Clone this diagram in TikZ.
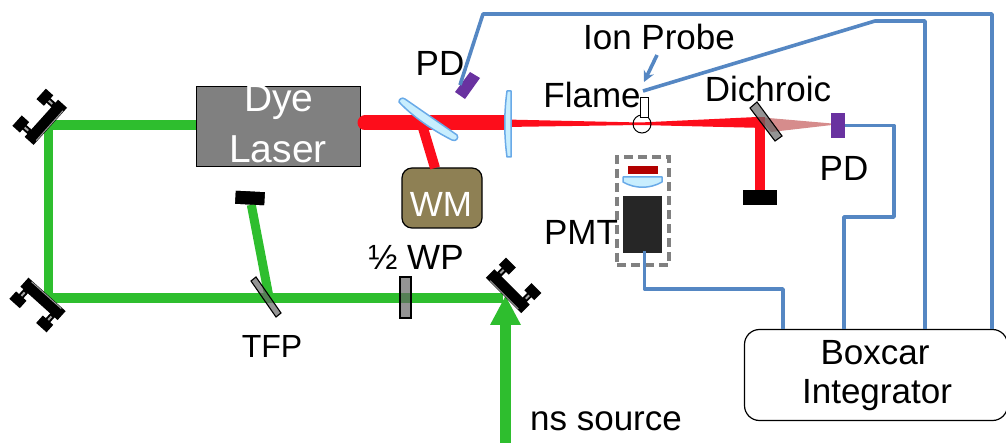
\documentclass[tikz,border=0pt]{standalone}
\usepackage{fontspec}
\setmainfont{Liberation Sans}
\usetikzlibrary{arrows.meta}
\definecolor{gr}{RGB}{46,190,46}
\definecolor{rd}{RGB}{253,13,27}
\definecolor{bl}{RGB}{85,135,195}
\definecolor{pur}{RGB}{105,50,160}
\definecolor{wm}{RGB}{142,128,84}
\definecolor{ltb}{RGB}{200,238,254}
\definecolor{lnb}{RGB}{105,170,232}
\definecolor{pink}{RGB}{214,140,140}
\tikzset{x=1pt,y=-1pt,
 grbeam/.style={draw=gr,line width=9.5pt},
 wire/.style={draw=bl,line width=3.6pt,line join=round},
 lbl/.style={font=\fontsize{35}{37}\selectfont,text=black,inner sep=0pt,anchor=center},
 biglbl/.style={font=\fontsize{39}{41}\selectfont,text=white,inner sep=0pt,anchor=center},
 optic/.style={draw=black,fill=black!60,fill opacity=.7,line width=1.1pt},
 lensy/.style={draw=lnb,fill=ltb,line width=1.5pt,line join=round},
 blk/.style={fill=black,inner sep=0pt},
 mirror/.pic={
  \fill[black] (-25,-3.5) rectangle (25,8.5);
  \draw[black!40!white,line width=1pt] (-20,-2.5) -- (20,-2.5);
  \fill[black] (-21,8) rectangle (-15,16);\fill[black] (15,8) rectangle (21,16);
  \fill[black!35!white] (-19,10) rectangle (-17,15);\fill[black!35!white] (17,10) rectangle (19,15);
  \fill[black] (-25,15) rectangle (-11,25);\fill[black] (11,15) rectangle (25,25);
 }}
\begin{document}
\begin{tikzpicture}
\useasboundingbox (0,0) rectangle (1006,443);
% green path
\node[draw=black,fill=black!50,line width=1pt,minimum width=164pt,minimum height=80pt,inner sep=0pt] (dye) at (278,127) {};
\coordinate (m1) at (48.5,125);\coordinate (m2) at (48.5,298);\coordinate (m3) at (503,298);
\coordinate (dyeg) at (196,125);
\draw[grbeam,line join=miter] (dyeg) -- (m1) -- (m2) -- (m3);
\node[blk,rotate=-3,minimum width=29pt,minimum height=13pt] (stopn) at (250,198) {};
\coordinate (tfpc) at (269,297);
\draw[grbeam,line width=9pt] (tfpc) -- (stopn);
\node[blk,rotate=-3,minimum width=29pt,minimum height=13pt] at (stopn) {};
\coordinate (nsb) at (505.5,443);\coordinate (nst) at (505.5,320);
\draw[draw=gr,line width=10.5pt] (nsb) -- (nst);
\fill[gr] (505.5,296) -- (521,325) -- (490,325) -- cycle;
% mirrors
\pic[rotate=-132] at (47.7,124) {mirror};
\pic[rotate=-42] at (44.7,297) {mirror};
\pic[rotate=135] at (506,293) {mirror};
% optics on green
\draw[optic] (256,277) -- (251,281) -- (276,317) -- (281,313) -- cycle;
\node[optic,minimum width=11pt,minimum height=41pt,inner sep=0pt] (hwp) at (405.5,297.5) {};
% red
\node[draw=black,fill=wm,line width=1.2pt,rounded corners=10pt,minimum width=80pt,minimum height=60pt,inner sep=0pt] (wmn) at (442,198) {};
\coordinate (bsc) at (423,128);\coordinate (wmt) at (435,168);
\draw[draw=rd,line width=10pt] (bsc) -- (wmt);
\draw[draw=rd,line width=15pt,line cap=round] (365,123) -- (501,123);
\draw[draw=rd,line width=15pt] (365,123) -- (505,123);
\fill[pink] (757,117) -- (832,123.5) -- (832,125) -- (771,132) -- cycle;
\fill[rd] (505,119.5) -- (640,122.5) -- (757,117) -- (760,117) -- (765,123) -- (765,128) -- (640,125) -- (505,127) -- cycle;
\node[blk,minimum width=34pt,minimum height=15pt] (dump) at (760,197.5) {};
\coordinate (dtop) at (760,117);
\draw[draw=rd,line width=9.5pt] (dtop) -- (dump.north);
% lens + BS
\draw[lensy] (399,102) .. controls (399,99) and (402,97) .. (405,99) -- (457,135) .. controls (459,138) and (456,142) .. (452,140) .. controls (432,130) and (412,116) .. (399,102) -- cycle;
\draw[lensy] (507,91) -- (511,91) -- (511,157) -- (507,157) .. controls (504,135) and (504,113) .. (507,91) -- cycle;
% dichroic
\draw[optic] (757,102) -- (750,108) -- (775,141) -- (782,136) -- cycle;
% flame and probe
\node[draw=black,circle,line width=1pt,minimum size=18pt,inner sep=0pt] (flame) at (642,124) {};
\node[draw=black,fill=white,line width=1pt,minimum width=8pt,minimum height=20pt,inner sep=0pt] (probe) at (644,108) {};
% PD
\fill[pur] (470,72) -- (480,78) -- (465,99) -- (455,92) -- cycle;
\coordinate (pdl) at (460,85);
\node[fill=pur,minimum width=14pt,minimum height=25pt,inner sep=0pt] (pdr) at (837.5,125.5) {};
% PMT
\node[draw=black!50,line width=3.8pt,dash pattern=on 9pt off 5pt,minimum width=52pt,minimum height=108pt,inner sep=0pt] (pmtbox) at (643,211) {};
\fill[red!70!black] (628,166) rectangle (658,174);
\draw[lensy] (623,177) -- (662,177) -- (662,182) .. controls (650,189) and (635,189) .. (623,182) -- cycle;
\node[fill=black!85,minimum width=39pt,minimum height=57pt,inner sep=0pt] (pmt) at (642.5,224.5) {};
% boxcar
\node[draw=black,fill=white,line width=1.2pt,rounded corners=15pt,minimum width=263pt,minimum height=91pt,inner sep=0pt] (box) at (876,375) {};
% wires
\coordinate (a1) at (483,14);\coordinate (a2) at (992,14);\coordinate (a3) at (992,329);
\draw[wire] (pdl) -- (a1) -- (a2) -- (a3);
\coordinate (b0) at (643,91);\coordinate (b1) at (875,21);\coordinate (b2) at (925,21);\coordinate (b3) at (925,329);
\draw[wire] (b0) -- (b1) -- (b2) -- (b3);
\coordinate (c1) at (894,125.5);\coordinate (c2) at (894,217);\coordinate (c3) at (844,217);\coordinate (c4) at (844,329);
\draw[wire] (pdr.east) -- (c1) -- (c2) -- (c3) -- (c4);
\coordinate (d0) at (644.5,251);\coordinate (d1) at (644.5,289);\coordinate (d2) at (783,289);\coordinate (d3) at (783,329);
\draw[wire] (d0) -- (d1) -- (d2) -- (d3);
\coordinate (ionA) at (657,55);\coordinate (ionB) at (644,82);
\draw[wire,-{Stealth[length=11pt,width=11pt]}] (ionA) -- (ionB);
% labels
\node[biglbl] (t1) at (279,102) {Dye};
\node[biglbl] (t2) at (278,149) {Laser};
\node[lbl,text=white] (t3) at (441,204) {WM};
\node[lbl] (t4) at (440,63) {PD};
\node[lbl] (t5) at (659,37) {Ion Probe};
\node[lbl] (t6) at (592,95) {Flame};
\node[lbl] (t7) at (768,89) {Dichroic};
\node[lbl] (t8) at (844,168) {PD};
\node[lbl] (t9) at (416,257) {½ WP};
\node[lbl,font=\fontsize{32}{34}\selectfont] (t10) at (272,346) {TFP};
\node[lbl] (t11) at (581,232) {PMT};
\node[lbl] (t12) at (606,421) {ns source};
\node[lbl] (t13) at (875,353) {Boxcar};
\node[lbl] (t14) at (877,395) {Integrator};
\end{tikzpicture}
\end{document}
